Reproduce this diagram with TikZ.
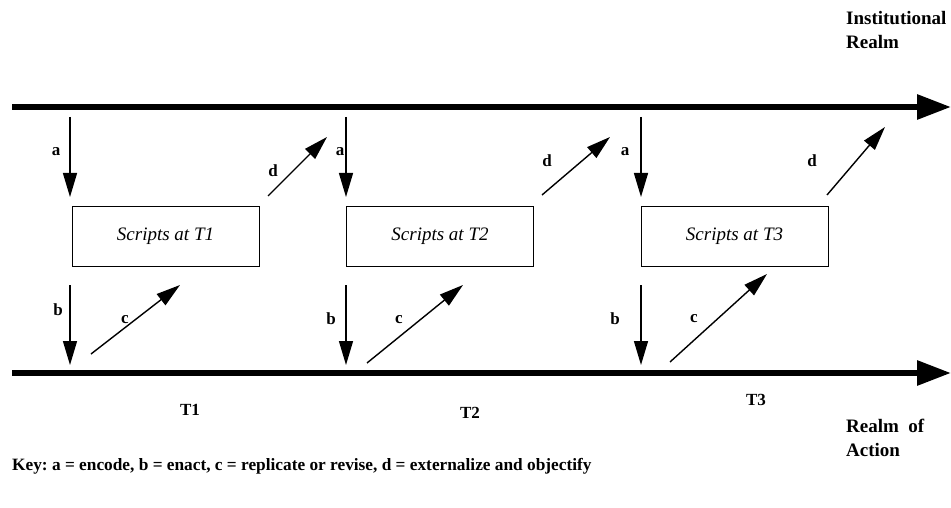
\documentclass[tikz,border=0pt]{standalone}
\usepackage{fontspec}
\setmainfont{Liberation Serif}
\usetikzlibrary{arrows.meta, positioning}
\frenchspacing
\tikzstyle{realm} = [line width=6pt, -{Triangle[length=34pt,width=24pt]}]
\tikzstyle{arrow} = [line width=1.4pt, -{Triangle[length=24pt,width=14pt]}]
\tikzstyle{script} = [rectangle, minimum width=187pt, minimum height=60pt, draw=black, line width=1pt, font=\fontsize{19}{22}\selectfont\itshape]
\tikzstyle{lbl} = [font=\fontsize{17}{20}\selectfont\bfseries, inner sep=0pt]
\tikzstyle{realmlbl} = [font=\fontsize{19}{24}\selectfont\bfseries, inner sep=0pt, align=left]

\begin{document}
\begin{tikzpicture}[x=1pt, y=-1pt]
\useasboundingbox (0,0) rectangle (951,508);

% Realms
\coordinate (inst_start) at (12,107);
\coordinate (inst_end) at (951,107);
\coordinate (act_start) at (12,373);
\coordinate (act_end) at (951,373);
\draw [realm] (inst_start) -- (inst_end);
\draw [realm] (act_start) -- (act_end);
\node (inst_label) [realmlbl, anchor=north west] at (846,11) {Institutional\\Realm};
\node (act_label) [realmlbl, anchor=north west] at (846,419) {Realm~~of\\Action};

% Scripts
\node (s1) [script] at (165.5,236) {Scripts at T1};
\node (s2) [script] at (440,236) {Scripts at T2};
\node (s3) [script] at (734.5,236) {Scripts at T3};

% Times
\node (t1) [lbl] at (190,410) {T1};
\node (t2) [lbl] at (470,413) {T2};
\node (t3) [lbl] at (756,400) {T3};

% Arrow ends
\coordinate (a1_from) at (70,117);   \coordinate (a1_to) at (70,197);
\coordinate (a2_from) at (346,117);  \coordinate (a2_to) at (346,197);
\coordinate (a3_from) at (641,117);  \coordinate (a3_to) at (641,197);
\coordinate (b1_from) at (70,285);   \coordinate (b1_to) at (70,365);
\coordinate (b2_from) at (346,285);  \coordinate (b2_to) at (346,365);
\coordinate (b3_from) at (641,285);  \coordinate (b3_to) at (641,365);
\coordinate (c1_from) at (91,354);   \coordinate (c1_to) at (180,285);
\coordinate (c2_from) at (367,363);  \coordinate (c2_to) at (463,285);
\coordinate (c3_from) at (670,362);  \coordinate (c3_to) at (767,274);
\coordinate (d1_from) at (268,196);  \coordinate (d1_to) at (327,137);
\coordinate (d2_from) at (542,195);  \coordinate (d2_to) at (610,137);
\coordinate (d3_from) at (827,195);  \coordinate (d3_to) at (885,127);

\draw [arrow] (a1_from) -- (a1_to);
\draw [arrow] (a2_from) -- (a2_to);
\draw [arrow] (a3_from) -- (a3_to);
\draw [arrow] (b1_from) -- (b1_to);
\draw [arrow] (b2_from) -- (b2_to);
\draw [arrow] (b3_from) -- (b3_to);
\draw [arrow] (c1_from) -- (c1_to);
\draw [arrow] (c2_from) -- (c2_to);
\draw [arrow] (c3_from) -- (c3_to);
\draw [arrow] (d1_from) -- (d1_to);
\draw [arrow] (d2_from) -- (d2_to);
\draw [arrow] (d3_from) -- (d3_to);

% Arrow labels
\node (la1) [lbl] at (56,152) {a};
\node (la2) [lbl] at (340,152) {a};
\node (la3) [lbl] at (625,152) {a};
\node (lb1) [lbl] at (58,310) {b};
\node (lb2) [lbl] at (331,319) {b};
\node (lb3) [lbl] at (615,319) {b};
\node (lc1) [lbl] at (125,320) {c};
\node (lc2) [lbl] at (399,320) {c};
\node (lc3) [lbl] at (694,319) {c};
\node (ld1) [lbl] at (273,171) {d};
\node (ld2) [lbl] at (547,161) {d};
\node (ld3) [lbl] at (812,161) {d};

% Key
\node (key) [lbl, font=\fontsize{17.3}{20}\selectfont\bfseries, anchor=west] at (12,466) {Key: a = encode, b = enact, c = replicate or revise, d = externalize and objectify};

\end{tikzpicture}
\end{document}
